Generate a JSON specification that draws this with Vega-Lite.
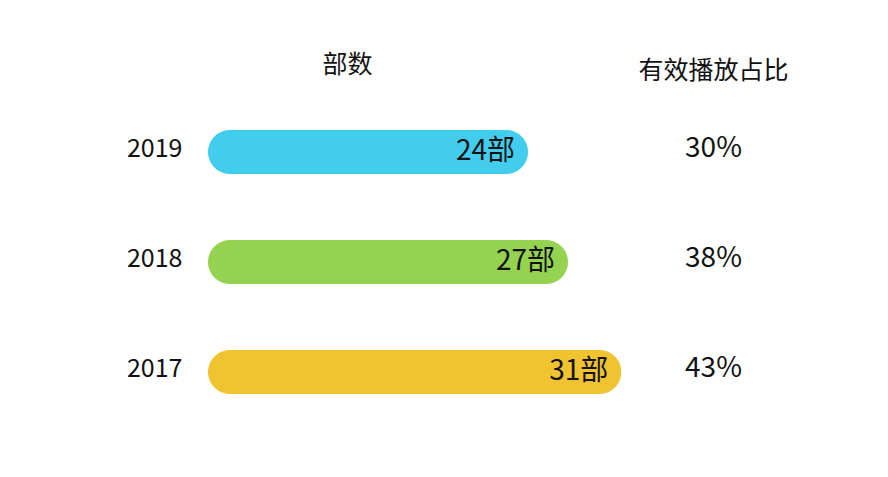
{
  "$schema": "https://vega.github.io/schema/vega-lite/v6.json",
  "width": 452,
  "height": 330,
  "autosize": {"type": "none"},
  "padding": {"left": 208, "top": 97, "right": 228, "bottom": 50},
  "background": "#ffffff",
  "config": {
    "view": {"stroke": null},
    "font": "Noto Sans CJK SC"
  },
  "data": {
    "values": [
      {"year": "2019", "count": 24, "label": "24部", "pct": "30%"},
      {"year": "2018", "count": 27, "label": "27部", "pct": "38%"},
      {"year": "2017", "count": 31, "label": "31部", "pct": "43%"}
    ]
  },
  "layer": [
    {
      "mark": {"type": "bar", "cornerRadius": 22},
      "encoding": {
        "y": {
          "field": "year",
          "type": "nominal",
          "sort": "descending",
          "scale": {"paddingInner": 0.6, "paddingOuter": 0.3},
          "axis": {
            "orient": "left",
            "domain": false,
            "ticks": false,
            "labelPadding": 26,
            "labelOffset": -3,
            "labelFontSize": 25,
            "labelColor": "#111111",
            "labelFont": "Noto Sans CJK SC",
            "title": "部数",
            "titleAngle": 0,
            "titleX": 139,
            "titleY": -33,
            "titleAlign": "center",
            "titleBaseline": "middle",
            "titleFontSize": 25,
            "titleFontWeight": "normal",
            "titleColor": "#111111",
            "titleFont": "Noto Sans CJK SC"
          }
        },
        "x": {
          "field": "count",
          "type": "quantitative",
          "scale": {"domain": [0, 33.9], "nice": false, "zero": true},
          "axis": null
        },
        "color": {
          "field": "year",
          "type": "nominal",
          "scale": {"domain": ["2019", "2018", "2017"], "range": ["#42CDEF", "#95D24F", "#F0C330"]},
          "legend": null
        }
      }
    },
    {
      "mark": {"type": "text", "align": "right", "baseline": "middle", "dx": -13, "fontSize": 28, "color": "#111111", "font": "Noto Sans CJK SC"},
      "encoding": {
        "y": {
          "field": "pct",
          "type": "nominal",
          "sort": "ascending",
          "scale": {"paddingInner": 0.6, "paddingOuter": 0.3},
          "axis": {
            "orient": "right",
            "domain": false,
            "ticks": false,
            "tickSize": 0,
            "labelAlign": "center",
            "labelPadding": 53,
            "labelOffset": -4,
            "labelFontSize": 28,
            "labelColor": "#111111",
            "labelFont": "Noto Sans CJK SC",
            "title": "有效播放占比",
            "titleAngle": 0,
            "titleX": 53,
            "titleY": -27,
            "titleAlign": "center",
            "titleBaseline": "middle",
            "titleFontSize": 25,
            "titleFontWeight": "normal",
            "titleColor": "#111111",
            "titleFont": "Noto Sans CJK SC"
          }
        },
        "x": {"field": "count", "type": "quantitative"},
        "text": {"field": "label"}
      }
    }
  ],
  "resolve": {"scale": {"y": "independent"}, "axis": {"y": "independent"}}
}
